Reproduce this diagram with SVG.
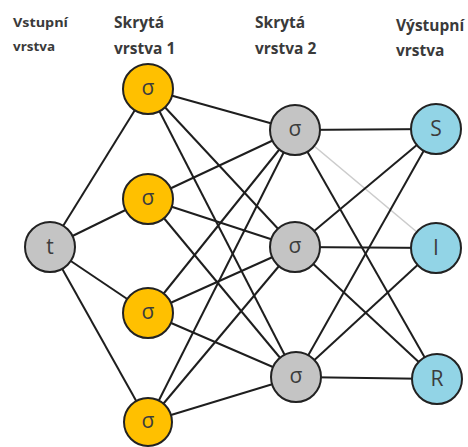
<svg xmlns="http://www.w3.org/2000/svg" width="468" height="447" viewBox="0 0 468 447">
  <style>
    .lbl { font-family: "Open Sans", "Liberation Sans", sans-serif; font-weight: bold; fill: #3a3a3a; }
    .small { font-size: 12px; }
    .big { font-size: 15.5px; }
    .edge { stroke: #1e1e1e; stroke-width: 2; fill: none; }
    .faint { stroke: #cccccc; stroke-width: 1.6; fill: none; }
    .node { stroke: #222; stroke-width: 2; }
    .in { fill: #c4c4c4; }
    .hid1 { fill: #ffc000; }
    .hid2 { fill: #c4c4c4; }
    .out { fill: #92d4e6; }
    .sym { font-family: "Open Sans", "Liberation Sans", sans-serif; font-size: 21px; fill: #3c3c3c; text-anchor: middle; dominant-baseline: central; }
  </style>
  <rect width="468" height="447" fill="#ffffff"/>

  <!-- layer titles -->
  <g id="titles">
    <text class="lbl small" x="13" y="27" textLength="55" lengthAdjust="spacingAndGlyphs">Vstupní</text>
    <text class="lbl small" x="13" y="51" textLength="42" lengthAdjust="spacingAndGlyphs">vrstva</text>
    <text class="lbl big" x="114" y="28">Skrytá</text>
    <text class="lbl big" x="114" y="54">vrstva 1</text>
    <text class="lbl big" x="255" y="28">Skrytá</text>
    <text class="lbl big" x="255" y="54">vrstva 2</text>
    <text class="lbl big" x="396" y="31">Výstupní</text>
    <text class="lbl big" x="396" y="56">vrstva</text>
  </g>

  <!-- connectors -->
  <g id="connectors">
    <!-- input to hidden layer 1 -->
    <line class="edge" x1="50" y1="247" x2="148" y2="89"/>
    <line class="edge" x1="50" y1="247" x2="148" y2="199"/>
    <line class="edge" x1="50" y1="247" x2="148" y2="313"/>
    <line class="edge" x1="50" y1="247" x2="148" y2="422"/>
    <!-- hidden layer 1 to hidden layer 2 -->
    <line class="edge" x1="148" y1="89" x2="295" y2="130"/>
    <line class="edge" x1="148" y1="89" x2="295" y2="247"/>
    <line class="edge" x1="148" y1="89" x2="296" y2="377"/>
    <line class="edge" x1="148" y1="199" x2="295" y2="130"/>
    <line class="edge" x1="148" y1="199" x2="295" y2="247"/>
    <line class="edge" x1="148" y1="199" x2="296" y2="377"/>
    <line class="edge" x1="148" y1="313" x2="295" y2="130"/>
    <line class="edge" x1="148" y1="313" x2="295" y2="247"/>
    <line class="edge" x1="148" y1="313" x2="296" y2="377"/>
    <line class="edge" x1="148" y1="422" x2="295" y2="130"/>
    <line class="edge" x1="148" y1="422" x2="295" y2="247"/>
    <line class="edge" x1="148" y1="422" x2="296" y2="377"/>
    <!-- hidden layer 2 to output -->
    <line class="edge" x1="295" y1="130" x2="436" y2="129"/>
    <line class="faint" x1="295" y1="130" x2="436" y2="248"/>
    <line class="edge" x1="295" y1="130" x2="437" y2="379"/>
    <line class="edge" x1="295" y1="247" x2="436" y2="129"/>
    <line class="edge" x1="295" y1="247" x2="436" y2="248"/>
    <line class="edge" x1="295" y1="247" x2="437" y2="379"/>
    <line class="edge" x1="296" y1="377" x2="436" y2="129"/>
    <line class="edge" x1="296" y1="377" x2="436" y2="248"/>
    <line class="edge" x1="296" y1="377" x2="437" y2="379"/>
  </g>

  <!-- input layer -->
  <g id="in-t"><circle class="node in" cx="50" cy="247" r="25"/><text class="sym" x="50" y="246">t</text></g>

  <!-- hidden layer 1 -->
  <g id="h1-1"><circle class="node hid1" cx="148" cy="89" r="25"/><text class="sym" x="148" y="87">σ</text></g>
  <g id="h1-2"><circle class="node hid1" cx="148" cy="199" r="25"/><text class="sym" x="148" y="197">σ</text></g>
  <g id="h1-3"><circle class="node hid1" cx="148" cy="313" r="25"/><text class="sym" x="148" y="311">σ</text></g>
  <g id="h1-4"><circle class="node hid1" cx="148" cy="422" r="24"/><text class="sym" x="148" y="420">σ</text></g>

  <!-- hidden layer 2 -->
  <g id="h2-1"><circle class="node hid2" cx="295" cy="130" r="25"/><text class="sym" x="295" y="128">σ</text></g>
  <g id="h2-2"><circle class="node hid2" cx="295" cy="247" r="25"/><text class="sym" x="295" y="245">σ</text></g>
  <g id="h2-3"><circle class="node hid2" cx="296" cy="377" r="25"/><text class="sym" x="296" y="375">σ</text></g>

  <!-- output layer -->
  <g id="out-S"><circle class="node out" cx="436" cy="129" r="25"/><text class="sym" x="436" y="128">S</text></g>
  <g id="out-I"><circle class="node out" cx="436" cy="248" r="25"/><text class="sym" x="436" y="247">I</text></g>
  <g id="out-R"><circle class="node out" cx="437" cy="379" r="25"/><text class="sym" x="437" y="378">R</text></g>
</svg>
